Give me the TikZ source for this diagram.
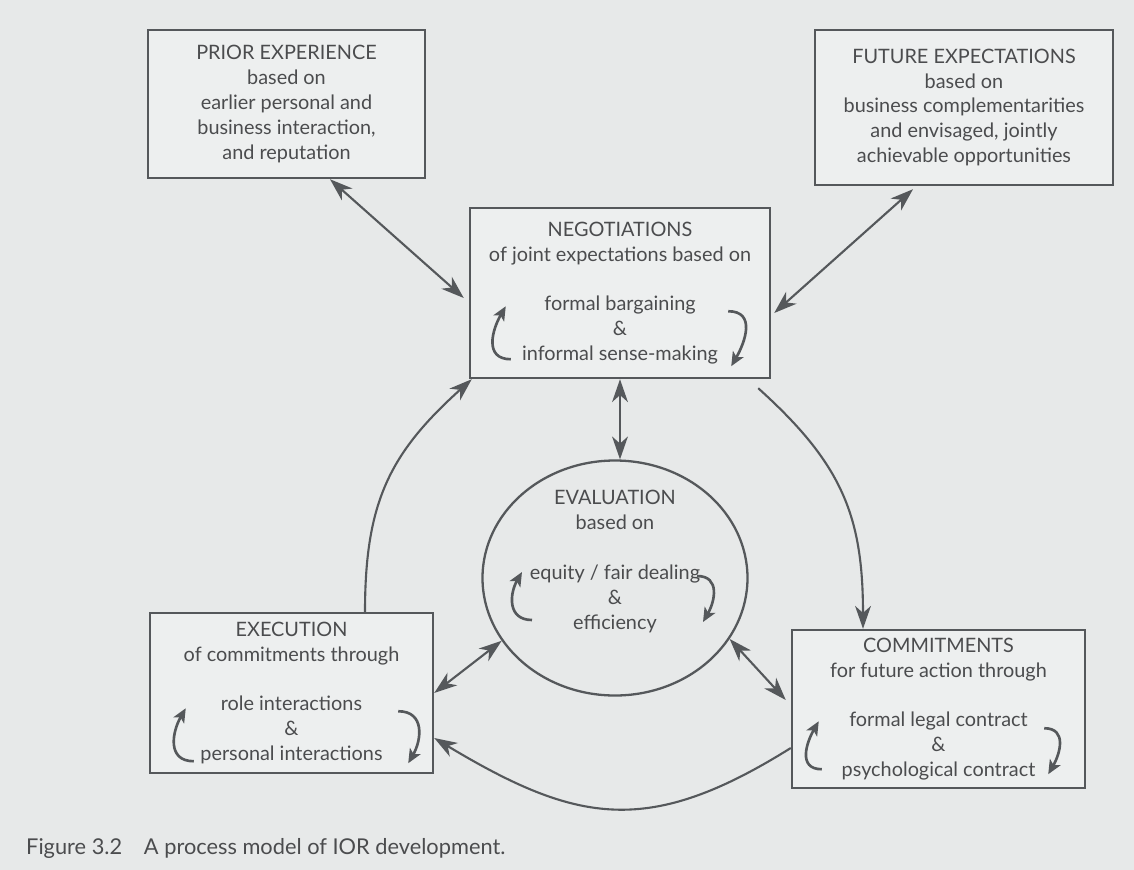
\documentclass[tikz,border=0pt]{standalone}
\usepackage{fontspec}
\setmainfont{Lato}
\usepackage{tikz}
\usetikzlibrary{arrows.meta,shapes.geometric}
\definecolor{page}{HTML}{E7E9E9}
\definecolor{boxfill}{HTML}{EDEFEF}
\definecolor{ink}{HTML}{55585B}
\definecolor{txt}{HTML}{4B4C4E}

\begin{document}
\begin{tikzpicture}[box/.style={draw=ink, line width=1.4pt, fill=boxfill, text=txt, align=center, inner sep=0pt, font=\fontsize{11.3}{14.2}\selectfont},  link/.style={draw=ink, line width=1.2pt, {Stealth[length=13pt,width=9pt,inset=4pt]}-{Stealth[length=13pt,width=9pt,inset=4pt]}},  flow/.style={draw=ink, line width=1.2pt, -{Stealth[length=13pt,width=9pt,inset=4pt]}},  cyc/.style={draw=ink, line width=1.5pt, -{Stealth[length=8pt,width=7pt,inset=2pt]}},  lab/.style={text=txt, align=center, font=\fontsize{11.3}{14.2}\selectfont}]
\fill[page] (0,0) rectangle (22.68,-17.4);
\useasboundingbox (0,0) rectangle (22.68,-17.4);
%%%%%%%%%%%%%%%%%%%%%%%%%%%%%%%%%%%%%%%%%%%%%%%%%%
% outer boxes
%%%%%%%%%%%%%%%%%%%%%%%%%%%%%%%%%%%%%%%%%%%%%%%%%%
  \node[box, minimum width=5.54cm, minimum height=2.96cm] (prior) at (5.73,-2.08)
    {PRIOR EXPERIENCE\\ based on\\ earlier personal and\\ business interaction,\\ and reputation};
  \node[box, minimum width=5.96cm, minimum height=3.1cm] (future) at (19.28,-2.15)
    {FUTURE EXPECTATIONS\\ based on\\ business complementarities\\ and envisaged, jointly\\ achievable opportunities};
%%%%%%%%%%%%%%%%%%%%%%%%%%%%%%%%%%%%%%%%%%%%%%%%%%
% cycle
%%%%%%%%%%%%%%%%%%%%%%%%%%%%%%%%%%%%%%%%%%%%%%%%%%
  \node[box, minimum width=6.0cm, minimum height=3.4cm] (neg) at (12.4,-5.86)
    {NEGOTIATIONS\\ of joint expectations based on\\[14pt] formal bargaining\\ \&\\ informal sense-making};
  \node[draw=ink, line width=1.3pt, ellipse, minimum width=5.3cm, minimum height=4.7cm, inner sep=0pt] (eval) at (12.3,-11.56) {};
  \node[lab] (evaltext) at (12.3,-11.23)
    {EVALUATION\\ based on\\[14pt] equity / fair dealing\\ \&\\ efficiency};
  \node[box, minimum width=5.66cm, minimum height=3.2cm] (exec) at (5.83,-13.86)
    {EXECUTION\\ of commitments through\\[14pt] role interactions\\ \&\\ personal interactions};
  \node[box, minimum width=5.86cm, minimum height=3.16cm] (commit) at (18.77,-14.18)
    {COMMITMENTS\\ for future action through\\[14pt] formal legal contract\\ \&\\ psychological contract};

  \node[lab, anchor=west, font=\fontsize{12.4}{14}\selectfont] (caption) at (0.4,-16.96)
    {Figure 3.2\quad A process model of IOR development.};

  % two-way links
  \draw[link] ([xshift=8.7mm]prior.south) -- ([shift={(-1mm,-1mm)}]neg.west);
  \draw[link] ([shift={(-10.2mm,-0.6mm)}]future.south) -- ([shift={(0.6mm,-4mm)}]neg.east);
  \draw[link] (neg.south) -- (neg.south |- eval.north);
  \draw[link] (eval.209) -- (exec.east);
  \draw[link] (eval.332) -- ([shift={(-1mm,1.8mm)}]commit.west);

  % the round
  \draw[flow] ([xshift=14.7mm]exec.north) to[out=90, in=-138, looseness=1.1] ([xshift=0.6mm]neg.south west);
  \draw[flow] ([shift={(-2.6mm,-1.8mm)}]neg.south east) to[out=-42, in=90, looseness=1.1] ([xshift=-15.1mm]commit.north);
  \draw[flow] ([yshift=-7.8mm]commit.west) to[out=-148, in=-31, looseness=1.2] ([yshift=-9mm]exec.east);

  % small turns inside
  \draw[cyc] ([shift={(0.84,0.4)}]neg.south west) to[out=180, in=-120, looseness=1.3] ([shift={(0.74,1.46)}]neg.south west);
  \draw[cyc] ([shift={(-0.86,1.36)}]neg.south east) to[out=0, in=60, looseness=1.3] ([shift={(-0.8,0.26)}]neg.south east);
  \draw[cyc] ([shift={(-1.66,-0.84)}]eval.center) to[out=180, in=-120, looseness=1.3] ([shift={(-1.86,0.12)}]eval.center);
  \draw[cyc] ([shift={(1.64,0.04)}]eval.center) to[out=0, in=60, looseness=1.3] ([shift={(1.76,-0.88)}]eval.center);
  \draw[cyc] ([shift={(0.9,0.26)}]exec.south west) to[out=180, in=-120, looseness=1.3] ([shift={(0.74,1.32)}]exec.south west);
  \draw[cyc] ([shift={(-0.72,1.26)}]exec.south east) to[out=0, in=60, looseness=1.3] ([shift={(-0.52,0.22)}]exec.south east);
  \draw[cyc] ([shift={(0.62,0.4)}]commit.south west) to[out=180, in=-120, looseness=1.3] ([shift={(0.56,1.36)}]commit.south west);
  \draw[cyc] ([shift={(-0.84,1.22)}]commit.south east) to[out=0, in=60, looseness=1.3] ([shift={(-0.76,0.3)}]commit.south east);
\end{tikzpicture}
\end{document}
